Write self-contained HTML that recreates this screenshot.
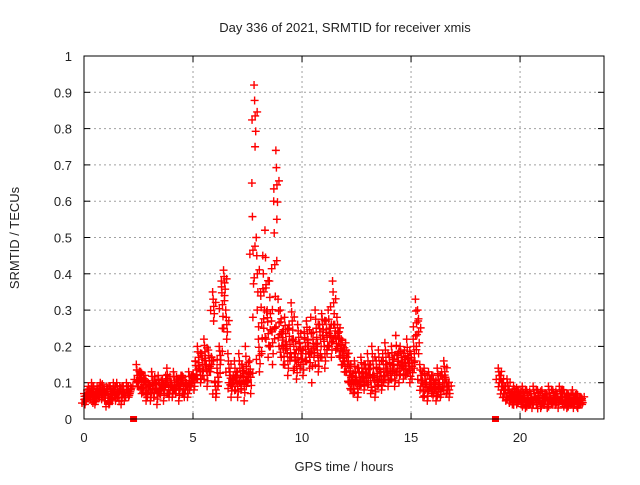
<!DOCTYPE html>
<html><head><meta charset="utf-8"><style>
body{margin:0;background:#fff;}
svg text{font-family:"Liberation Sans",sans-serif;font-size:13px;fill:#222;}
</style></head><body>
<svg id="c" width="640" height="480"></svg>
<script>
const hours=[0,0.1,0.2,0.3,0.4,0.5,0.6,0.7,0.8,0.9,1,1.1,1.2,1.3,1.4,1.5,1.6,1.7,1.8,1.9,2,2.1,
2.4,2.5,2.6,2.7,2.8,2.9,
3,3.1,3.2,3.3,3.4,3.5,3.6,3.7,3.8,3.9,
4,4.1,4.2,4.3,4.4,4.5,4.6,4.7,4.8,4.9,
5,5.1,5.2,5.3,5.4,5.5,5.6,5.7,5.8,5.9,
6,6.1,6.2,6.3,6.4,6.5,6.6,6.7,6.8,6.9,
7,7.1,7.2,7.3,7.4,7.5,7.6,7.7,7.8,7.9,
8,8.1,8.2,8.3,8.4,8.5,8.6,8.7,8.8,8.9,
9,9.1,9.2,9.3,9.4,9.5,9.6,9.7,9.8,9.9,
10,10.1,10.2,10.3,10.4,10.5,10.6,10.7,10.8,10.9,
11,11.1,11.2,11.3,11.4,11.5,11.6,11.7,11.8,11.9,
12,12.1,12.2,12.3,12.4,12.5,12.6,12.7,12.8,12.9,
13,13.1,13.2,13.3,13.4,13.5,13.6,13.7,13.8,13.9,
14,14.1,14.2,14.3,14.4,14.5,14.6,14.7,14.8,14.9,
15,15.1,15.2,15.3,15.4,15.5,15.6,15.7,15.8,15.9,
16,16.1,16.2,16.3,16.4,16.5,16.6,16.7,
19,19.1,19.2,19.3,19.4,19.5,19.6,19.7,19.8,19.9,
20,20.1,20.2,20.3,20.4,20.5,20.6,20.7,20.8,20.9,
21,21.1,21.2,21.3,21.4,21.5,21.6,21.7,21.8,21.9,
22,22.1,22.2,22.3,22.4,22.5,22.6,22.7,22.8];
const srmtidA=[.07,.05,.09,.06,.08,.04,.09,.07,.06,.08,
.07,.05,.09,.06,.08,.1,.07,.04,.09,.06,.08,.07,
.15,.1,.13,.08,.12,.06,
.09,.13,.06,.1,.12,.07,.11,.08,.14,.06,
.1,.13,.07,.11,.09,.12,.06,.1,.13,.09,
.12,.16,.2,.14,.18,.22,.15,.19,.13,.35,
.1,.14,.2,.38,.41,.3,.18,.13,.09,.16,
.12,.18,.08,.14,.2,.1,.16,.65,.92,.5,
.22,.35,.45,.52,.3,.38,.27,.6,.74,.33,
.3,.24,.28,.2,.25,.32,.22,.18,.26,.21,
.18,.24,.27,.2,.28,.22,.3,.19,.26,.29,
.22,.27,.3,.25,.38,.26,.28,.24,.22,.19,
.21,.18,.15,.12,.16,.11,.14,.17,.13,.15,
.18,.14,.2,.12,.16,.19,.13,.18,.21,.15,
.17,.2,.15,.23,.18,.2,.16,.19,.22,.17,
.18,.22,.33,.3,.15,.12,.14,.1,.13,.11,
.12,.1,.14,.09,.13,.16,.11,.1,
.14,.12,.1,.09,.11,.08,.07,.09,.06,.08,
.07,.09,.06,.08,.05,.07,.09,.06,.08,.05,
.08,.06,.07,.09,.05,.08,.06,.07,.09,.08,
.08,.06,.07,.05,.08,.06,.07,.05,.06];
const srmtidB=[.04,.08,.06,.1,.05,.07,.06,.1,.08,.05,
.09,.04,.06,.1,.05,.06,.09,.08,.05,.1,.06,.09,
.09,.13,.07,.11,.05,.1,
.05,.08,.11,.04,.07,.1,.05,.12,.07,.1,
.06,.08,.11,.05,.12,.07,.1,.06,.08,.12,
.08,.11,.14,.1,.12,.15,.09,.13,.17,.27,
.06,.09,.15,.25,.34,.22,.1,.06,.12,.08,
.06,.1,.15,.05,.09,.13,.07,.28,.75,.3,
.13,.18,.25,.22,.17,.2,.15,.25,.55,.2,
.17,.15,.19,.12,.16,.22,.14,.11,.19,.15,
.12,.16,.2,.14,.1,.17,.2,.13,.18,.23,
.14,.18,.2,.17,.26,.19,.2,.17,.15,.13,
.13,.1,.08,.07,.1,.06,.09,.11,.08,.1,
.1,.07,.12,.06,.09,.11,.08,.1,.13,.09,
.11,.13,.09,.12,.1,.14,.11,.12,.13,.1,
.11,.14,.2,.18,.09,.06,.08,.05,.09,.07,
.07,.05,.08,.06,.09,.1,.07,.06,
.1,.08,.06,.05,.07,.05,.04,.06,.04,.05,
.04,.05,.03,.05,.04,.03,.05,.04,.05,.03,
.04,.05,.03,.05,.04,.05,.04,.03,.05,.04,
.04,.03,.05,.04,.03,.05,.03,.04,.04];
const gapHours=[2.25,18.85];
const xTicks=[0,5,10,15,20];
const yTicks=[0,0.1,0.2,0.3,0.4,0.5,0.6,0.7,0.8,0.9,1];
const yTickLabels=["0","0.1","0.2","0.3","0.4","0.5","0.6","0.7","0.8","0.9","1"];

const L=84,R=604,T=56,B=419,XMAX=23.85;
const X=h=>L+h/XMAX*(R-L);
const Y=v=>B-v*(B-T);
const svg=document.getElementById('c');
const NS='http://www.w3.org/2000/svg';
function mk(tag,attrs,parent){const e=document.createElementNS(NS,tag);for(const k in attrs)e.setAttribute(k,attrs[k]);(parent||svg).appendChild(e);return e;}

const grid=mk('g',{});


xTicks.forEach(t=>{if(t>0)mk('line',{x1:X(t),x2:X(t),y1:T,y2:B,stroke:'#a0a0a0','stroke-dasharray':'2,3','stroke-width':1},grid);
 mk('line',{x1:X(t),x2:X(t),y1:B,y2:B-6,stroke:'#000'},grid);mk('line',{x1:X(t),x2:X(t),y1:T,y2:T+6,stroke:'#000'},grid);
 const tx=mk('text',{x:X(t),y:B+23,'text-anchor':'middle'});tx.textContent=t;
 
 });
yTicks.forEach((t,i)=>{if(t>0&&t<1)mk('line',{x1:L,x2:R,y1:Y(t),y2:Y(t),stroke:'#a0a0a0','stroke-dasharray':'2,3','stroke-width':1},grid);
 mk('line',{x1:L,x2:L+6,y1:Y(t),y2:Y(t),stroke:'#000'},grid);mk('line',{x1:R,x2:R-6,y1:Y(t),y2:Y(t),stroke:'#000'},grid);
 const tx=mk('text',{x:L-12,y:Y(t)+5,'text-anchor':'end'});tx.textContent=yTickLabels[i];
 
 });

const pts=mk('g',{stroke:'#ff0000','stroke-width':1.4});


function plus(x,y){mk('path',{d:`M${x-4},${y}h8M${x},${y-4}v8`},pts);}
hours.forEach((h,i)=>{
 const a=srmtidA[i],b=srmtidB[i],m=(a+b)/2;
 plus(X(h),Y(a));plus(X(h)+1,Y(b));
 plus(X(h+0.05),Y(m));plus(X(h+0.025),Y((a+m)/2));plus(X(h+0.075),Y((b+m)/2));
 plus(X(h)-2,Y(m)+4);plus(X(h+0.05)+2,Y(m)-4);
});
gapHours.forEach(h=>{const r=mk('rect',{x:X(h)-3,y:B-3,width:7,height:6,fill:'#ff0000'});
 
 });

const frame=mk('rect',{x:L,y:T,width:R-L,height:B-T,fill:'none',stroke:'#000'});


const title=mk('text',{x:345,y:32,'text-anchor':'middle','font-size':'14'});title.textContent='Day 336 of 2021, SRMTID for receiver xmis';


const xt=mk('text',{x:344,y:471,'text-anchor':'middle','font-size':'14'});xt.textContent='GPS time / hours';


const yt=mk('text',{x:0,y:0,'text-anchor':'middle','font-size':'14',transform:'translate(19,238) rotate(-90)'});yt.textContent='SRMTID / TECUs';


</script>
</body></html>
